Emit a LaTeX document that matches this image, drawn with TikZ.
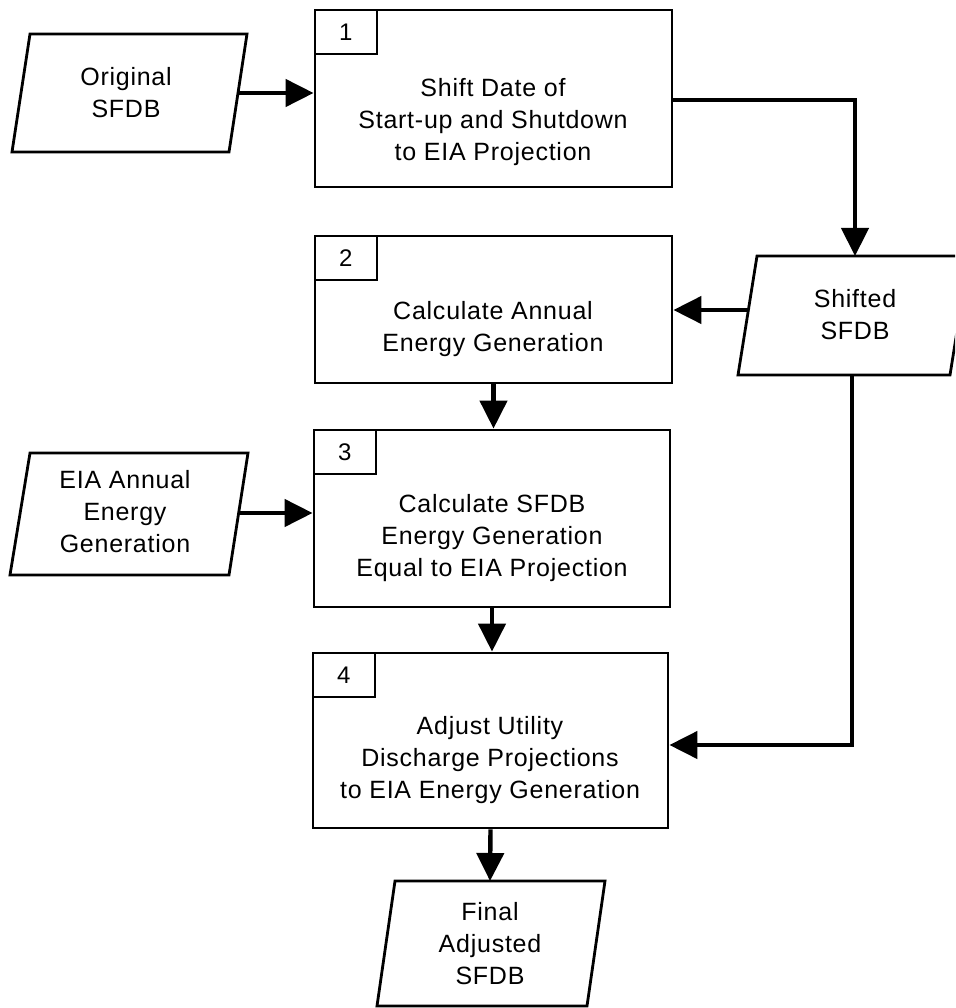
\documentclass[tikz,border=0pt]{standalone}
\usepackage{fontspec}
\setmainfont{Liberation Sans}[LetterSpace=3]
\usetikzlibrary{arrows.meta}
\begin{document}
\begin{tikzpicture}[x=1pt,y=-1pt,
  procbox/.style={draw, line width=2.8pt, inner sep=0pt},
  numbox/.style={draw, line width=2.6pt, minimum width=62pt, minimum height=44pt, inner sep=0pt, anchor=north west, font=\fontsize{24}{28}\selectfont},
  txt/.style={align=center, font=\fontsize{25}{32}\selectfont, inner sep=0pt},
  para/.style={line width=2.8pt, line join=miter},
  conn/.style={line width=4.4pt, -{Triangle[length=28pt,width=27pt]}}]
\useasboundingbox (0,0) rectangle (955,1008);
\clip (0,0) rectangle (955,1008);
% process boxes
\node[procbox, minimum width=357pt, minimum height=177pt] (b1) at (493.5,98.5) {};
\node[numbox] (n1) at (b1.north west) {1};
\node[txt] (t1) at (493,122) {Shift Date of\\Start-up and Shutdown\\to EIA Projection};
\node[procbox, minimum width=357pt, minimum height=147pt] (b2) at (493.5,309.5) {};
\node[numbox] (n2) at (b2.north west) {2};
\node[txt] (t2) at (493,329) {Calculate Annual\\Energy Generation};
\node[procbox, minimum width=356pt, minimum height=177pt] (b3) at (492,518.5) {};
\node[numbox] (n3) at (b3.north west) {3};
\node[txt] (t3) at (492,538) {Calculate SFDB\\Energy Generation\\Equal to EIA Projection};
\node[procbox, minimum width=355pt, minimum height=175pt] (b4) at (490.5,740.5) {};
\node[numbox] (n4) at (b4.north west) {4};
\node[txt] (t4) at (490,760) {Adjust Utility\\Discharge Projections\\to EIA Energy Generation};
% data parallelograms
\draw[para] (30,34) -- (247,34) -- (229,152) -- (12,152) -- cycle;
\node[txt] (orig) at (126,93) {Original\\SFDB};
\draw[para] (757,256) -- (969,256) -- (950,375) -- (738,375) -- cycle;
\node[txt] (shift) at (855,315) {Shifted\\SFDB};
\draw[para] (30,453) -- (248,453) -- (229,575) -- (10,575) -- cycle;
\node[txt] (eia) at (125,512) {EIA Annual\\Energy\\Generation};
\draw[para] (395,881) -- (605,881) -- (587,1006) -- (377,1006) -- cycle;
\node[txt] (final) at (490,944) {Final\\Adjusted\\SFDB};
% connection points
\coordinate (oR) at (238,93);
\coordinate (sT) at (855,256);
\coordinate (sL) at (748,310);
\coordinate (sB) at (852,375);
\coordinate (eR) at (239,513);
\coordinate (fT) at (490,881);
\coordinate (k1) at (855,100);
\coordinate (k2) at (852,745);
% connectors
\draw[conn] (oR) -- (oR -| b1.west);
\draw[conn] (b1.east |- k1) -- (k1) -- (sT);
\draw[conn] (sL) -- (sL -| b2.east);
\draw[conn] (b2.south) -- (b2.south |- b3.north);
\draw[conn] (eR) -- (eR -| b3.west);
\draw[conn] (b3.south) -- (b3.south |- b4.north);
\draw[conn] (sB) -- (k2) -- (k2 -| b4.east);
\draw[conn] (b4.south) -- (fT);
\end{tikzpicture}
\end{document}
